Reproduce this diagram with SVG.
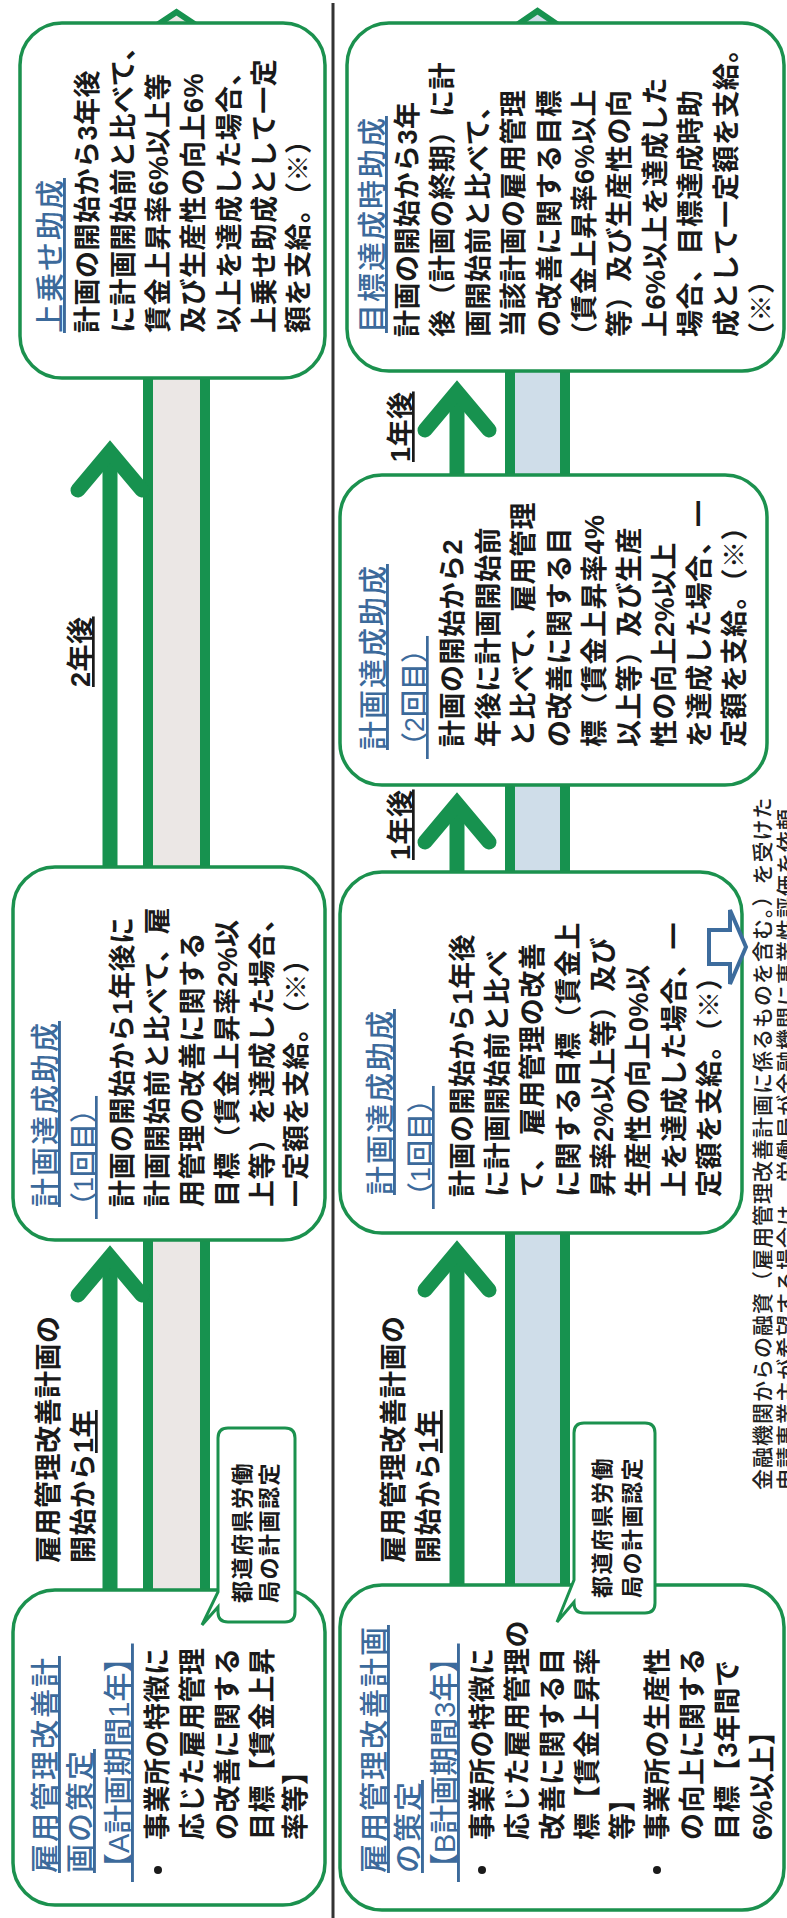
<svg xmlns="http://www.w3.org/2000/svg" width="787" height="1918" viewBox="0 0 787 1918">
<style>
.box{fill:#fff;stroke:#1b914e;stroke-width:3.5}
.cal{fill:#fff;stroke:#1b914e;stroke-width:3;stroke-linejoin:miter}
.arr{fill:none;stroke:#17924f;stroke-width:15;stroke-linecap:round;stroke-linejoin:miter}
.shaft{fill:none;stroke:#17924f;stroke-width:15}
.bside{fill:none;stroke:#17924f;stroke-width:10}
.bhead{stroke:#17924f;stroke-width:6;stroke-linejoin:miter}
.ga{fill:#ebe7e5}
.gb{fill:#cfdde9}
.blue{fill:#fff;stroke:#3d6c9d;stroke-width:4;stroke-linejoin:miter}
.div{stroke:#333;stroke-width:3}
text{font-family:"Liberation Sans","Noto Sans CJK JP",sans-serif}
.t{font-size:27px;font-weight:700;fill:#1a1a1a;letter-spacing:0.5px}
.h{font-size:29px;font-weight:500;fill:#3c6a9b;letter-spacing:2px;text-decoration:underline}
.h2{font-size:27px;font-weight:500;fill:#3c6a9b;letter-spacing:0px;text-decoration:underline}
.h3{font-size:29px;font-weight:500;fill:#3c6a9b;letter-spacing:0px;text-decoration:underline}
.c{font-size:22px;font-weight:700;fill:#1a1a1a;letter-spacing:1.5px}
.f{font-size:21px;font-weight:500;fill:#222;letter-spacing:1px}
.u{text-decoration:underline}
.dot{fill:#1a1a1a}
</style>
<rect width="787" height="1918" fill="#fff"/>
<g transform="translate(0,1918) rotate(-90)">
  <line class="div" x1="0" y1="333" x2="1915" y2="333"/>
  <g id="connectors">
    <!-- A: block arrow -->
    <rect class="ga" x="320" y="150" width="1552" height="53"/>
    <path class="bside" d="M320,148 H1870 M320,205 H1870"/>
    <polygon class="ga bhead" points="1866,116.5 1906,176.5 1866,236.5"/>
    <!-- A: solid arrows -->
    <path class="shaft" d="M320,110 H655"/>
    <path class="arr" d="M623,78 L661,110 L623,142"/>
    <path class="shaft" d="M1045,110 H1460"/>
    <path class="arr" d="M1428,78 L1466,110 L1428,142"/>
    <!-- B: block arrow -->
    <rect class="gb" x="325" y="512" width="1547" height="51"/>
    <path class="bside" d="M325,510 H1870 M325,565 H1870"/>
    <polygon class="gb bhead" points="1866,477.5 1907,537.5 1866,597.5"/>
    <!-- B: solid arrows -->
    <path class="shaft" d="M325,457 H660"/>
    <path class="arr" d="M628,425 L666,457 L628,489"/>
    <path class="shaft" d="M1040,457 H1108"/>
    <path class="arr" d="M1076,425 L1114,457 L1076,489"/>
    <path class="shaft" d="M1437,457 H1520"/>
    <path class="arr" d="M1488,425 L1526,457 L1488,489"/>
  </g>

  <g id="a-sakutei">
    <rect class="box" x="13" y="13" width="315" height="312" rx="42"/>
    <text class="h" x="45" y="56">雇用管理改善計</text>
    <text class="h" x="45" y="91">画の策定</text>
    <text class="h3" x="36" y="129">【A計画期間1年】</text>
    <circle class="dot" cx="48" cy="158" r="4"/>
    <text class="t" x="78" y="167">事業所の特徴に</text>
    <text class="t" x="78" y="202">応じた雇用管理</text>
    <text class="t" x="78" y="237">の改善に関する</text>
    <text class="t" x="78" y="272">目標【賃金上昇</text>
    <text class="t" x="78" y="305">率等】</text>
  </g>
  <g id="a-callout">
    <path class="cal" d="M296,228 Q296,218 306,218 L311,218 L293,202 L326,218 L480,218 Q490,218 490,228 L490,285 Q490,295 480,295 L306,295 Q296,295 296,285 Z"/>
    <text class="c" x="315" y="250">都道府県労働</text>
    <text class="c" x="315" y="277">局の計画認定</text>
  </g>
  <g id="a-start-label">
    <text class="t" x="355" y="58">雇用管理改善計画の</text>
    <text class="t" x="355" y="93">開始から<tspan class="u">1年</tspan></text>
  </g>
  <g id="a-keikaku1">
    <rect class="box" x="678" y="13" width="373" height="312" rx="42"/>
    <text class="h" x="711" y="56">計画達成助成</text>
    <text class="h2" x="699" y="93">（1回目）</text>
    <text class="t" x="711" y="132">計画の開始から1年後に</text>
    <text class="t" x="711" y="167">計画開始前と比べて、雇</text>
    <text class="t" x="711" y="202">用管理の改善に関する</text>
    <text class="t" x="711" y="237">目標（賃金上昇率2%以</text>
    <text class="t" x="711" y="272">上等）を達成した場合、</text>
    <text class="t" x="711" y="306">一定額を支給。（※）</text>
  </g>
  <g id="a-2nen-label">
    <text class="t u" x="1231" y="90">2年後</text>
  </g>
  <g id="a-uwanose">
    <rect class="box" x="1540" y="20" width="355" height="305" rx="42"/>
    <text class="h" x="1585" y="61">上乗せ助成</text>
    <text class="t" x="1585" y="97">計画の開始から3年後</text>
    <text class="t" x="1585" y="133">に計画開始前と比べて、</text>
    <text class="t" x="1585" y="168">賃金上昇率6%以上等</text>
    <text class="t" x="1585" y="203">及び生産性の向上6%</text>
    <text class="t" x="1585" y="239">以上を達成した場合、</text>
    <text class="t" x="1585" y="274">上乗せ助成として一定</text>
    <text class="t" x="1585" y="308">額を支給。（※）</text>
  </g>

  <g id="b-sakutei">
    <rect class="box" x="8" y="340" width="325" height="444" rx="42"/>
    <text class="h" x="45" y="385">雇用管理改善計画</text>
    <text class="h" x="45" y="419">の策定</text>
    <text class="h3" x="36" y="455">【B計画期間3年】</text>
    <circle class="dot" cx="48" cy="482" r="4"/>
    <text class="t" x="78" y="492">事業所の特徴に</text>
    <text class="t" x="78" y="527">応じた雇用管理の</text>
    <text class="t" x="78" y="562">改善に関する目</text>
    <text class="t" x="78" y="597">標【賃金上昇率</text>
    <text class="t" x="78" y="632">等】</text>
    <circle class="dot" cx="48" cy="657" r="4"/>
    <text class="t" x="78" y="667">事業所の生産性</text>
    <text class="t" x="78" y="702">の向上に関する</text>
    <text class="t" x="78" y="737">目標【3年間で</text>
    <text class="t" x="78" y="772">6%以上】</text>
  </g>
  <g id="b-callout">
    <path class="cal" d="M305,584 Q305,574 315,574 L316,574 L296,557 L338,574 L485,574 Q495,574 495,584 L495,645 Q495,655 485,655 L315,655 Q305,655 305,645 Z"/>
    <text class="c" x="320" y="610">都道府県労働</text>
    <text class="c" x="320" y="640">局の計画認定</text>
  </g>
  <g id="b-start-label">
    <text class="t" x="355" y="403">雇用管理改善計画の</text>
    <text class="t" x="355" y="438">開始から<tspan class="u">1年</tspan></text>
  </g>
  <g id="b-keikaku1">
    <rect class="box" x="685" y="340" width="361" height="402" rx="42"/>
    <text class="h" x="723" y="391">計画達成助成</text>
    <text class="h2" x="709" y="430">（1回目）</text>
    <text class="t" x="721" y="472">計画の開始から1年後</text>
    <text class="t" x="721" y="507">に計画開始前と比べ</text>
    <text class="t" x="721" y="542">て、 雇用管理の改善</text>
    <text class="t" x="721" y="578">に関する目標（賃金上</text>
    <text class="t" x="721" y="613">昇率2%以上等）及び</text>
    <text class="t" x="721" y="648">生産性の向上0%以</text>
    <text class="t" x="721" y="684">上を達成した場合、一</text>
    <text class="t" x="721" y="719">定額を支給。（※）</text>
  </g>
  <g id="b-hint-arrow">
    <polygon class="blue" points="954,709 954,730 934,730 971,746 1008,730 988,730 988,709"/>
  </g>
  <g id="b-1nen-label-1">
    <text class="t u" x="1058" y="410">1年後</text>
  </g>
  <g id="b-keikaku2">
    <rect class="box" x="1133" y="340" width="310" height="427" rx="42"/>
    <text class="h" x="1168" y="384">計画達成助成</text>
    <text class="h2" x="1159" y="424">（2回目）</text>
    <text class="t" x="1171" y="462">計画の開始から2</text>
    <text class="t" x="1171" y="498">年後に計画開始前</text>
    <text class="t" x="1171" y="533">と比べて、雇用管理</text>
    <text class="t" x="1171" y="569">の改善に関する目</text>
    <text class="t" x="1171" y="604">標（賃金上昇率4%</text>
    <text class="t" x="1171" y="639">以上等）及び生産</text>
    <text class="t" x="1171" y="674">性の向上2%以上</text>
    <text class="t" x="1171" y="709">を達成した場合、一</text>
    <text class="t" x="1171" y="744">定額を支給。（※）</text>
  </g>
  <g id="b-1nen-label-2">
    <text class="t u" x="1456" y="410">1年後</text>
  </g>
  <g id="b-mokuhyo">
    <rect class="box" x="1547" y="347" width="348" height="437" rx="42"/>
    <text class="h" x="1585" y="383">目標達成時助成</text>
    <text class="t" x="1581" y="417">計画の開始から3年</text>
    <text class="t" x="1581" y="452">後（計画の終期）に計</text>
    <text class="t" x="1581" y="488">画開始前と比べて、</text>
    <text class="t" x="1581" y="523">当該計画の雇用管理</text>
    <text class="t" x="1581" y="559">の改善に関する目標</text>
    <text class="t" x="1569" y="594">（賃金上昇率6%以上</text>
    <text class="t" x="1581" y="629">等）及び生産性の向</text>
    <text class="t" x="1581" y="665">上6%以上を達成した</text>
    <text class="t" x="1581" y="700">場合、目標達成時助</text>
    <text class="t" x="1581" y="736">成として一定額を支給。</text>
    <text class="t" x="1569" y="771">（※）</text>
  </g>
  <g id="footnote">
    <text class="f" x="428" y="770">金融機関からの融資（雇用管理改善計画に係るものを含む。）を受けた</text>
    <text class="f" x="428" y="794">申請事業主が希望する場合は、労働局が金融機関に事業性評価を依頼</text>
  </g>
</g>
</svg>
